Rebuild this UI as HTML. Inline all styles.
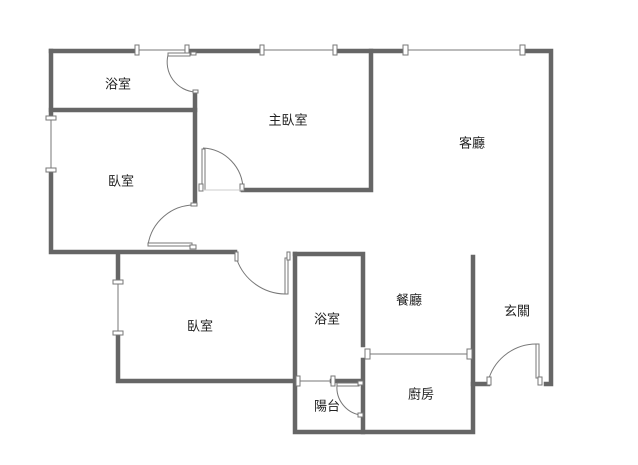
<!DOCTYPE html>
<html><head><meta charset="utf-8"><style>
body{margin:0;background:#fff}
svg text{font-family:"Liberation Sans","Noto Sans CJK TC",sans-serif;font-size:13px;fill:#222;text-anchor:middle;dominant-baseline:middle}
</style></head><body>
<svg width="638" height="460" viewBox="0 0 638 460">
<g stroke="#666" stroke-width="4.5" fill="none" stroke-linecap="square">
<path d="M51 51H137M187 51H262M335 51H405M522 51H551V384H546"/>
<path d="M51 51V118M51 170V252H235"/>
<path d="M51 110H195V92"/>
<path d="M195 110V203"/>
<path d="M371 51V190H243"/>
<path d="M118 253V282M118 333V381H297"/>
<path d="M295 254V432H473V257"/>
<path d="M295 254H363V345M363 360V432"/>
<path d="M332 381H360"/>
<path d="M473 384H488"/>
</g>
<g stroke="#777" stroke-width="1" fill="#fff">
<line x1="137" y1="50" x2="187" y2="50"/><line x1="262" y1="50" x2="335" y2="50"/><line x1="405" y1="50" x2="522" y2="50"/>
<line x1="51" y1="118" x2="51" y2="170"/><line x1="118" y1="282" x2="118" y2="333"/>
<line x1="298" y1="381" x2="332" y2="381"/><line x1="367" y1="354" x2="470" y2="354"/>
<rect x="135" y="45" width="4" height="10"/><rect x="185" y="45" width="4" height="10"/>
<rect x="260" y="45" width="4" height="10"/><rect x="333" y="45" width="4" height="10"/>
<rect x="403" y="45" width="5" height="10"/><rect x="520" y="45" width="5" height="10"/>
<rect x="46" y="116" width="10" height="4"/><rect x="46" y="168" width="10" height="4"/>
<rect x="113" y="280" width="10" height="4"/><rect x="113" y="331" width="10" height="4"/>
<rect x="296" y="376" width="4" height="10"/><rect x="331" y="376" width="4" height="10"/>
<rect x="365" y="349" width="5" height="10"/><rect x="467" y="349" width="5" height="10"/>
<path d="M168 55A30 30 0 0 0 195 92" fill="none"/><rect x="168" y="53" width="22" height="3"/><rect x="191" y="52" width="5" height="3"/><rect x="193" y="90" width="5" height="3"/>
<path d="M203 148A42 42 0 0 1 243 190" fill="none"/><rect x="202" y="149" width="3" height="41"/><rect x="199" y="184" width="4" height="7"/><rect x="240" y="184" width="4" height="7"/>
<line x1="203" y1="190" x2="243" y2="190" stroke="#ccc"/>
<path d="M195 205A47 47 0 0 0 148 245" fill="none"/><rect x="148" y="243" width="44" height="3"/><rect x="190" y="245" width="6" height="4"/><rect x="191" y="203" width="6" height="3"/>
<path d="M237 260A52 52 0 0 0 285 294" fill="none"/><rect x="235" y="252" width="3" height="9"/><rect x="285" y="258" width="3" height="36"/><rect x="287" y="252" width="3" height="8"/>
<path d="M337 385A28 28 0 0 0 360 415" fill="none"/><rect x="337" y="383" width="22" height="3"/><rect x="358" y="381" width="5" height="4"/><rect x="358" y="413" width="5" height="4"/>
<path d="M489 378A50 50 0 0 1 536 344" fill="none"/><rect x="487" y="377" width="4" height="8"/><rect x="536" y="344" width="3" height="34"/><rect x="538" y="377" width="4" height="8"/>
</g>
<text x="118" y="85">浴室</text><text x="288" y="121">主臥室</text><text x="472" y="144">客廳</text>
<text x="121" y="182">臥室</text><text x="200" y="327">臥室</text><text x="327" y="320">浴室</text>
<text x="409" y="301">餐廳</text><text x="517" y="312">玄關</text><text x="421" y="395">廚房</text><text x="327" y="407">陽台</text>
</svg>
</body></html>
